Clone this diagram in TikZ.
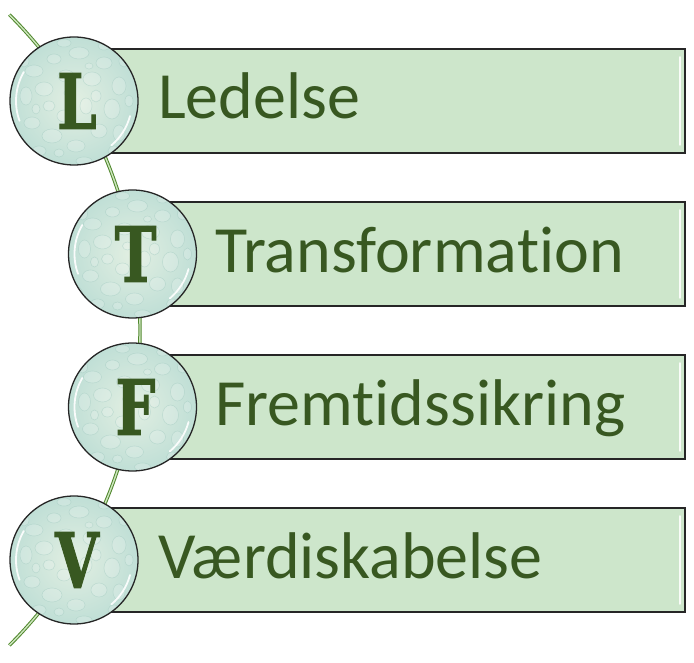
\documentclass[tikz,border=0pt]{standalone}
\usepackage{fontspec}
\setmainfont{Carlito}[Ligatures=NoCommon,RawFeature=-liga,RawFeature=-clig,RawFeature=-dlig]
\newfontfamily\capfont{DejaVu Serif Condensed Bold}[FakeBold=1.5]
\definecolor{txtgreen}{RGB}{56,88,33}
\definecolor{boxfill}{RGB}{205,230,203}
\definecolor{ballin}{RGB}{226,239,226}
\definecolor{ballout}{RGB}{192,223,214}
\definecolor{bubble}{RGB}{150,195,185}
\definecolor{vine}{RGB}{80,135,45}
\definecolor{vinein}{RGB}{205,230,190}
\begin{document}
\begin{tikzpicture}[x=1pt,y=1pt,
  barbox/.style={draw=black!85,line width=1.2pt,fill=boxfill},
  ball/.style={circle,minimum size=128pt,inner sep=0pt,draw=black!85,line width=1.3pt},
  balltext/.style={font=\capfont\fontsize{76}{76}\selectfont,text=txtgreen,xscale=0.82,transform shape},
  label/.style={anchor=base west,font=\fontsize{66}{66}\selectfont,text=txtgreen,inner sep=0pt},
  shine/.style={white,line width=2pt,line cap=round,opacity=0.9},
  bub/.style={draw=bubble,line width=0.5pt,fill=white,fill opacity=0.18,draw opacity=0.4},
  vinestyle/.style={draw=vine,line width=1pt,double=vinein,double distance=1.4pt}]
\useasboundingbox (0,0) rectangle (694,662);
% vine
\coordinate (vc) at (-306,332);
\draw[vinestyle] (vc) ++(45:446) arc[start angle=45,end angle=-45,radius=446];
% bars
\foreach \cx/\cy in {74/561,132.5/408,132.5/255,74/102}{
  \draw[barbox] (\cx,\cy-52) rectangle (685,\cy+52);
  \draw[shine,line width=1.5pt] (680,\cy-44) -- (680,\cy+44);
}
% balls
\foreach \cx/\cy/\L/\nm in {74/561/L/a,132.5/408/T/b,132.5/255/F/c,74/102/V/d}{
  \begin{scope}
    \clip (\cx,\cy) circle[radius=64];
    \fill[inner color=ballin,outer color=ballout] (\cx,\cy) circle[radius=64];
    \foreach \bx/\by/\ba/\bb in {-40/30/9/6,-20/42/7/5,5/48/10/6,30/38/8/6,45/15/7/9,
      -48/5/6/9,-30/12/9/7,-8/25/8/6,18/22/9/7,38/-8/8/10,-42/-22/8/6,-22/-35/10/7,
      2/-45/9/6,25/-30/8/7,45/-32/6/8,-10/-15/7/6,12/-5/6/8,-25/-5/6/5,30/55/6/4,
      -10/58/7/4,-50/40/5/6,50/40/5/6,-55/-40/5/7,10/-60/8/4,-35/-50/7/5,40/-50/6/5,
      -5/8/5/4,22/5/5/6,-38/-8/4/5,55/0/4/6,-15/-52/5/4,15/35/4/3}{
      \draw[bub] (\cx+\bx,\cy+\by) ellipse[x radius=\ba,y radius=\bb];
    }
  \end{scope}
  \node[ball] (\nm) at (\cx,\cy) {};
  \draw[shine,line width=1.8pt] (\cx,\cy) ++(200:58) arc[start angle=200,end angle=150,radius=58];
  \draw[shine,line width=1.8pt] (\cx,\cy) ++(-15:58) arc[start angle=-15,end angle=-50,radius=58];
  \node[balltext] at (\cx+3,\cy) {\L};
}
% labels
\node[label] (la) at (158,561-18) {Ledelse};
\node[label] (lb) at (215,408-19) {Transforma\kern0pt tion};
\node[label] (lc) at (215,255-19) {Fremt\kern0pt idssikring};
\node[label] (ld) at (158,102-19) {Værdiskabelse};
\end{tikzpicture}
\end{document}
